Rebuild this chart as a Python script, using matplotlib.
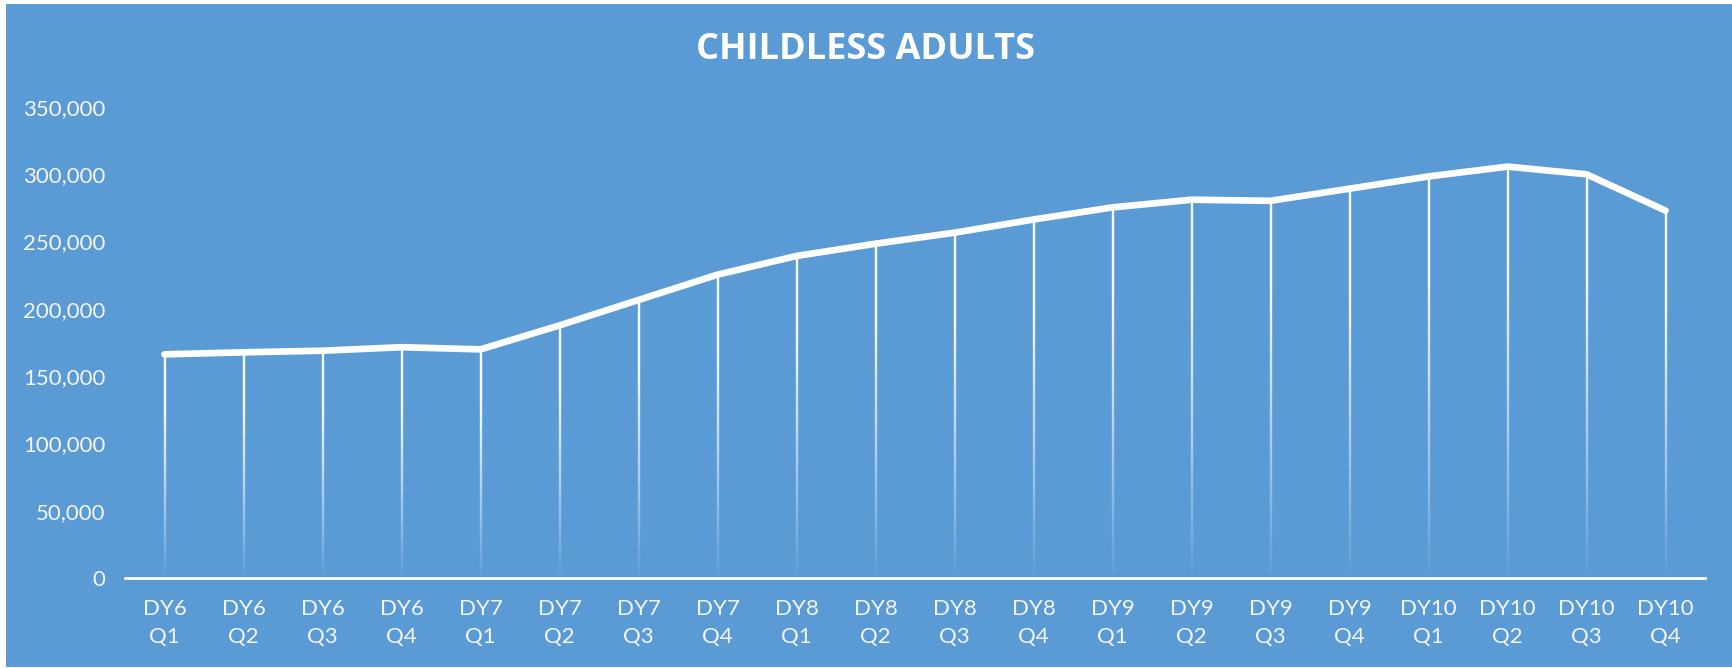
import matplotlib
matplotlib.use("Agg")
import matplotlib.pyplot as plt
import numpy as np
from matplotlib.collections import LineCollection
from matplotlib.patches import Rectangle
from matplotlib.ticker import FuncFormatter

categories = ["DY6\nQ1", "DY6\nQ2", "DY6\nQ3", "DY6\nQ4",
              "DY7\nQ1", "DY7\nQ2", "DY7\nQ3", "DY7\nQ4",
              "DY8\nQ1", "DY8\nQ2", "DY8\nQ3", "DY8\nQ4",
              "DY9\nQ1", "DY9\nQ2", "DY9\nQ3", "DY9\nQ4",
              "DY10\nQ1", "DY10\nQ2", "DY10\nQ3", "DY10\nQ4"]
values = [166200, 167700, 168900, 171500, 169900, 187700, 206600, 225400,
          239300, 248400, 256600, 266400, 275400, 281100, 280300, 289300,
          298400, 305700, 300000, 273000]
y_ticks = [0, 50000, 100000, 150000, 200000, 250000, 300000, 350000]
title = "CHILDLESS ADULTS"

BG = "#5B9BD5"
W, H = 1732, 668
fig = plt.figure(figsize=(W / 100, H / 100), dpi=100)
fig.patch.set_facecolor("white")
fig.patches.append(Rectangle((6 / W, 1 / H), 1 - 6 / W, (667 - 4) / H,
                             transform=fig.transFigure, facecolor=BG,
                             edgecolor="none", zorder=-10))

ax = fig.add_axes([125 / W, 1 - 578 / H, (1705 - 125) / W, (578 - 107) / H])
ax.set_facecolor("none")
x = np.arange(len(values))

# drop lines with fading gradient
segs, cols = [], []
N = 80
for xi, v in zip(x, values):
    hs = np.linspace(0, v, N + 1)
    for k in range(N):
        segs.append([(xi, hs[k]), (xi, hs[k + 1])])
        frac = (k + 0.5) / N
        a = min(1.0, (frac / 0.75) ** 0.9) * 0.95
        cols.append((1, 1, 1, a))
ax.add_collection(LineCollection(segs, colors=cols, linewidths=1.7,
                                 capstyle="butt", zorder=2))

ax.plot(x, values, color="white", lw=4.8, solid_capstyle="round",
        solid_joinstyle="round", zorder=3)

ax.set_xlim(-0.5, len(values) - 0.5)
ax.set_ylim(0, 350000)
ax.set_yticks(y_ticks)
ax.yaxis.set_major_formatter(FuncFormatter(lambda v, p: f"{int(v):,}"))
ax.set_xticks(x)
ax.set_xticklabels(categories, linespacing=1.5)

for s in ["top", "right", "left"]:
    ax.spines[s].set_visible(False)
ax.spines["bottom"].set_color("white")
ax.spines["bottom"].set_linewidth(2)
ax.tick_params(axis="both", length=0, colors="#F4F4F4")
ax.tick_params(axis="y", pad=14, labelsize=16)
ax.tick_params(axis="x", pad=15, labelsize=16)
for lab in ax.get_xticklabels() + ax.get_yticklabels():
    lab.set_fontfamily("Lato")

fig.text(0.5, 1 - 50 / H, title, ha="center", va="center", color="white",
         fontsize=26, fontweight="bold", fontfamily="Open Sans")

fig.savefig("out.png", dpi=100, facecolor=fig.get_facecolor())
